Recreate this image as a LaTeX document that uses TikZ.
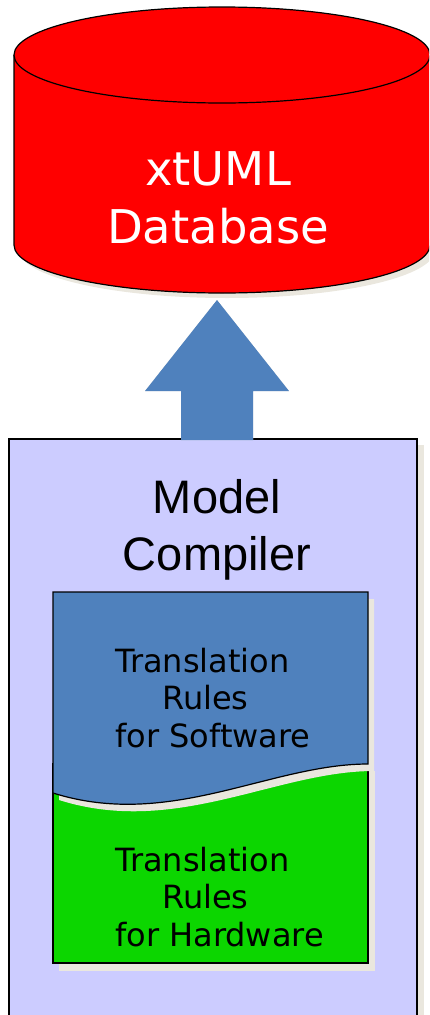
\documentclass[tikz,border=0pt]{standalone}
\usepackage{fontspec}
\usepackage{tikz}
\newfontfamily\verdanafont{DejaVu Sans}
\newfontfamily\arialfont{Liberation Sans}
\definecolor{dbred}{RGB}{255,0,0}
\definecolor{steelblue}{RGB}{79,129,189}
\definecolor{lavender}{RGB}{204,204,255}
\definecolor{rulegreen}{RGB}{12,214,0}
\definecolor{dropgrey}{RGB}{234,231,222}
\tikzset{
  outline/.style={draw=black,line width=1.2bp},
  shadowfill/.style={fill=dropgrey,draw=none},
  bigtext/.style={inner sep=0,align=center,font=\verdanafont\fontsize{46.5bp}{58bp}\selectfont},
  rulestext/.style={anchor=west,inner sep=0,align=left,font=\verdanafont\fontsize{32bp}{37.5bp}\selectfont}
}

\begin{document}
\begin{tikzpicture}[x=1bp,y=1bp]
\useasboundingbox (0,0) rectangle (429,-1015);
\clip (0,0) rectangle (429,-1015);
\pgfmathsetmacro{\rx}{208}
\pgfmathsetmacro{\ry}{48}

% database cylinder
\fill[shadowfill] (227,-250) ellipse [x radius=\rx bp, y radius=\ry bp];
\fill[dbred] (14,-55) -- (14,-245) arc[start angle=180,end angle=360,x radius=\rx bp,y radius=\ry bp] -- (430,-55) -- cycle;
\draw[outline] (14,-55) -- (14,-245) arc[start angle=180,end angle=360,x radius=\rx bp,y radius=\ry bp] -- (430,-55);
\filldraw[outline,fill=dbred] (222,-55) ellipse [x radius=\rx bp, y radius=\ry bp];
\node[bigtext,text=white] (db) at (218,-197.5) {xtUML\\Database};

% compiler box
\fill[shadowfill] (15,-445) rectangle (424,-1030);
\filldraw[fill=lavender,draw=black,line width=1.8bp] (9,-439) rectangle (417,-1030);
\node[inner sep=0,align=center,font=\arialfont\fontsize{47bp}{57bp}\selectfont] (mc) at (217,-529.7) {Model\\Compiler};

% block arrow from the compiler up to the database
\coordinate (dbfoot) at (217,-300);
\foreach \dx/\dy/\col in {5/-6/dropgrey,0/0/steelblue}{
  \fill[\col,shift={(\dx,\dy)}] (dbfoot) -- ++(72,-91) -- ++(-36,0) -- ++(0,-49)
    -- ++(-72,0) -- ++(0,49) -- ++(-36,0) -- cycle;
}

% rules page: hardware part below, software part on top
\fill[shadowfill] (59,-771) rectangle (375,-971);
\filldraw[outline,fill=rulegreen] (53,-764) rectangle (368,-963);
\foreach \dx/\dy/\col in {6/-7/dropgrey,0/0/steelblue}{
  \fill[\col,shift={(\dx,\dy)}] (53,-592) -- (368,-592) -- (368,-764)
    .. controls (270,-764) and (170,-830) .. (53,-793) -- cycle;
}
\draw[outline] (53,-592) -- (368,-592) -- (368,-764)
  .. controls (270,-764) and (170,-830) .. (53,-793) -- cycle;
\node[rulestext] (sw) at (115,-697.7) {Translation\\\hspace*{47bp}Rules\\for Software};
\node[rulestext] (hw) at (115,-896.7) {Translation\\\hspace*{47bp}Rules\\for Hardware};
\end{tikzpicture}
\end{document}
